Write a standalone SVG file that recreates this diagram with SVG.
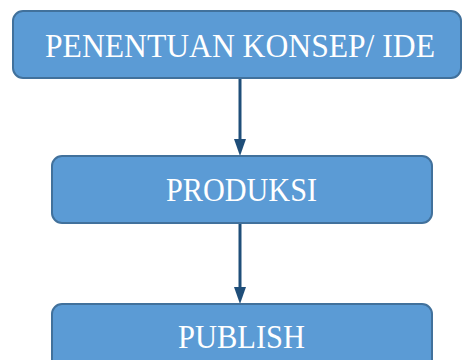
<svg xmlns="http://www.w3.org/2000/svg" width="462" height="360" viewBox="0 0 462 360">
<defs>
<style>
.box{fill:#5B9BD5;stroke:#41719C;stroke-width:2}
.lbl{font-family:"Liberation Serif","DejaVu Serif",serif;fill:#FFFFFF;text-anchor:middle;font-size:33px}
.con{stroke:#1F4E79;stroke-width:3;fill:none}
.head{fill:#1F4E79}
</style>
</defs>
<rect width="462" height="360" fill="#FFFFFF"/>
<g id="connectors">
<line class="con" x1="240" y1="79" x2="240" y2="140"/>
<path class="head" d="M234,139 L246,139 L240,156 Z"/>
<line class="con" x1="240" y1="224" x2="240" y2="288"/>
<path class="head" d="M234,287 L246,287 L240,304 Z"/>
</g>
<g id="node1">
<rect class="box" x="13" y="11" width="448" height="67" rx="10"/>
<text class="lbl" x="240" y="57" textLength="390" lengthAdjust="spacingAndGlyphs">PENENTUAN KONSEP/ IDE</text>
</g>
<g id="node2">
<rect class="box" x="52" y="156" width="380" height="67" rx="10"/>
<text class="lbl" x="241.5" y="201" textLength="151" lengthAdjust="spacingAndGlyphs">PRODUKSI</text>
</g>
<g id="node3">
<rect class="box" x="52" y="304" width="380" height="67" rx="10"/>
<text class="lbl" x="241.5" y="348" textLength="127" lengthAdjust="spacingAndGlyphs">PUBLISH</text>
</g>
</svg>
